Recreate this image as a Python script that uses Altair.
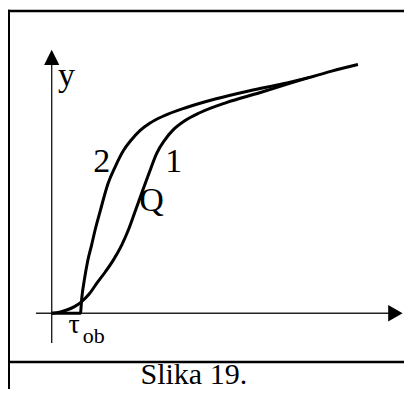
import altair as alt
import pandas as pd

# ---- data ----
# curve 1: S-shaped response
c1_x = [0, 2.5, 4.3, 6.5, 8.4, 10.7, 12.9, 15.3, 17.6, 20.0, 21.9, 23.8, 25.7,
        27.8, 30.0, 32.3, 34.7, 38.0, 42.3, 49.9, 59.4, 68.0, 73.7, 80.0, 87.5]
c1_y = [0, 0.4, 0.95, 1.9, 3.2, 5.5, 8.6, 11.8, 15.2, 19.5, 23.8, 29.0, 34.3,
        40.0, 45.7, 49.5, 52.4, 55.0, 57.3, 60.2, 63.0, 65.7, 67.4, 69.2, 71.1]
# curve 2: dead time tau_ob then fast rise
c2_x = [0, 8.2, 8.6, 9.4, 10.3, 11.4, 12.4, 13.8, 16.1, 18.2, 20.5, 22.8, 25.2,
        28.0, 31.8, 38.5, 47.0, 56.6, 66.1, 73.7]
c2_y = [0, 0, 4.5, 10.0, 15.0, 19.5, 23.8, 29.0, 37.1, 42.0, 46.5, 49.6, 52.2,
        54.3, 56.3, 58.8, 61.3, 63.6, 65.6, 67.4]

label_text = ["y", "2", "1", "Q"]
label_x = [4.2, 14.3, 34.9, 28.5]
label_y = [64.9, 40.5, 40.5, 29.2]

tau_text = ["τ"]
tau_x = [6.4]
tau_y = [-5.7]
sub_text = ["ob"]
sub_x = [8.9]
sub_y = [-8.4]

caption = ["Slika 19."]

# axis extents (data units)
yaxis_from, yaxis_to = -8.5, 73.0
xaxis_from, xaxis_to = -4.5, 98.0
yarrow = [0.0, 73.1]
xarrow = [98.2, 0.0]

# ---- layout ----
W, H = 396, 381
PX = 3.5               # pixels per data unit
X0, Y0 = 43.7, 305.3   # plot position of the data origin
xs = alt.Scale(domain=[-X0 / PX, (W - X0) / PX], nice=False, zero=False)
ys = alt.Scale(domain=[-(H - Y0) / PX, Y0 / PX], nice=False, zero=False)

rows = []
for i, (x, y) in enumerate(zip(c1_x, c1_y)):
    rows.append({"curve": "1", "i": i, "x": x, "y": y})
for i, (x, y) in enumerate(zip(c2_x, c2_y)):
    rows.append({"curve": "2", "i": i, "x": x, "y": y})
curves_df = pd.DataFrame(rows)

X = lambda f: alt.X(f, scale=xs, axis=None)
Y = lambda f: alt.Y(f, scale=ys, axis=None)

curves = alt.Chart(curves_df).mark_line(
    color="black", strokeWidth=3, interpolate="monotone"
).encode(x=X("x:Q"), y=Y("y:Q"), detail="curve:N", order="i:Q")

axes_df = pd.DataFrame({
    "x": [0, xaxis_from], "x2": [0, xaxis_to],
    "y": [yaxis_from, 0], "y2": [yaxis_to, 0],
})
axes = alt.Chart(axes_df).mark_rule(color="#222", strokeWidth=1.4).encode(
    x=X("x:Q"), x2="x2:Q", y=Y("y:Q"), y2="y2:Q")

yarr = alt.Chart(pd.DataFrame({"x": [yarrow[0]], "y": [yarrow[1]]})).mark_point(
    shape="M0,-1L1,1L-1,1Z", size=230, filled=True, color="black", opacity=1,
    strokeWidth=0).encode(x=X("x:Q"), y=Y("y:Q"))
xarr = alt.Chart(pd.DataFrame({"x": [xarrow[0]], "y": [xarrow[1]]})).mark_point(
    shape="M0.93,0L-0.93,-1.07L-0.93,1.07Z", size=240, filled=True, color="black",
    opacity=1, strokeWidth=0).encode(x=X("x:Q"), y=Y("y:Q"))

labels = alt.Chart(pd.DataFrame({"t": label_text, "x": label_x, "y": label_y})).mark_text(
    font="Liberation Serif", fontSize=34, color="black", align="center",
    baseline="alphabetic").encode(x=X("x:Q"), y=Y("y:Q"), text="t:N")

tau = alt.Chart(pd.DataFrame({"t": tau_text, "x": tau_x, "y": tau_y})).mark_text(
    font="Liberation Serif", fontSize=28, color="black", align="center",
    baseline="alphabetic").encode(x=X("x:Q"), y=Y("y:Q"), text="t:N")
sub = alt.Chart(pd.DataFrame({"t": sub_text, "x": sub_x, "y": sub_y})).mark_text(
    font="Liberation Serif", fontSize=22, color="black", align="left",
    baseline="alphabetic").encode(x=X("x:Q"), y=Y("y:Q"), text="t:N")

cap = alt.Chart(pd.DataFrame({"t": caption})).mark_text(
    font="Liberation Serif", fontSize=30, color="black", align="center",
    baseline="alphabetic").encode(x=alt.value(185.8), y=alt.value(376), text="t:N")

one = pd.DataFrame({"k": [0]})
frame_left = alt.Chart(one).mark_rule(color="black", strokeWidth=3).encode(
    x=alt.value(0.5), y=alt.value(1.8), y2=alt.value(H))
frame_top = alt.Chart(one).mark_rule(color="black", strokeWidth=2.6).encode(
    x=alt.value(-1), x2=alt.value(W), y=alt.value(3))
frame_sep = alt.Chart(one).mark_rule(color="black", strokeWidth=2.6).encode(
    x=alt.value(-1), x2=alt.value(W), y=alt.value(354))

chart = alt.layer(
    frame_left, frame_top, frame_sep, axes, curves, yarr, xarr, labels, tau, sub, cap
).properties(
    width=W, height=H, padding=0, autosize=alt.AutoSizeParams(type="none"),
    background="white"
).configure_view(stroke=None)

chart.save("out.html", embed_options={"renderer": "svg", "actions": False})
